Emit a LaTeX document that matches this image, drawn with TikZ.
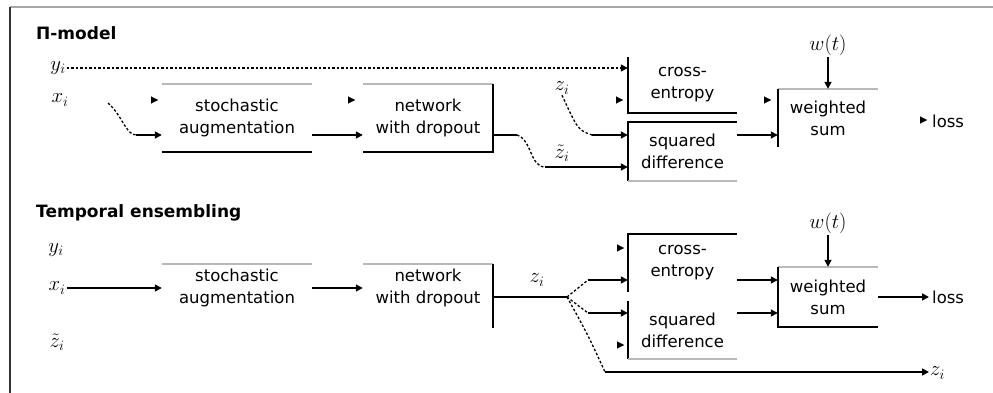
\documentclass[tikz,border=0pt]{standalone}
\usepackage{fontspec}
\setsansfont{DejaVu Sans}
\usetikzlibrary{arrows.meta,calc}
\begin{document}
\begin{tikzpicture}[x=1pt,y=-1pt,
  txt/.style={font=\fontsize{16.5}{22}\selectfont\sffamily, align=center, inner sep=0pt},
  ttl/.style={font=\fontsize{17}{20}\selectfont\sffamily\bfseries, inner sep=0pt, anchor=base west},
  mlab/.style={font=\fontsize{22}{24}\selectfont, inner sep=1pt},
  tipA/.tip={Triangle[length=7pt,width=7pt]},
  conn/.style={line width=1.6pt, -tipA},
  link/.style={line width=1.6pt},
  dots/.style={line width=1.3pt, dash pattern=on 2.5pt off 2pt},
  dotarrow/.style={dots, -tipA},
  edge/.style={line width=2pt},
  soft/.style={line width=1.5pt, gray!55},
  stray/.style={line width=0.1pt, -tipA}]
\useasboundingbox (0,0) rectangle (993,393);
% frame
\draw[gray!70, line width=1.5pt] (10,7) -- (993,7);
\draw[black!80, line width=1.5pt] (10,7) -- (10,393);

% ---------------- Pi-model ----------------
\node[ttl] (t1) at (36,40) {Π-model};
\node[mlab] (y1) at (58,68) {$y_i$};
\node[mlab] (x1) at (60,100) {$x_i$};

\node[txt, minimum width=150, minimum height=68] (aug1) at (237,118) {stochastic\\augmentation};
\node[txt, minimum width=130, minimum height=68] (net1) at (428,118) {network\\with dropout};
\node[txt, minimum width=109, minimum height=56] (ce1) at (682.5,85) {cross-\\entropy};
\node[txt, minimum width=109, minimum height=59] (sd1) at (682.5,151.5) {squared\\difference};
\node[txt, minimum width=100, minimum height=58] (ws1) at (828,118) {weighted\\sum};

\draw[soft] (aug1.north west) -- (aug1.north east);
\draw[edge] (aug1.south west) -- (aug1.south east);
\draw[soft] (net1.north west) -- (net1.north east);
\draw[edge] (net1.north east) -- (net1.south east) -- (net1.south west);
\draw[edge] (ce1.north west) -- (ce1.south west) -- (ce1.south east);
\draw[edge] (sd1.north east) -- (sd1.north west) -- (sd1.south west);
\draw[soft] (sd1.south west) -- (sd1.south east);
\draw[soft] (ws1.north west) -- (ws1.north east);
\draw[edge] (ws1.north west) -- (ws1.south west);

\draw[dotarrow] (y1.east) -- (y1.east -| ce1.west);
\coordinate (d1) at (108,103);
\coordinate (c1) at (136,135);
\draw[dots] (d1) .. controls (122,115) and (126,135) .. (c1);
\draw[conn] (c1) -- (c1 -| aug1.west);
\draw[conn] (aug1.east |- c1) -- (net1.west |- c1);
\coordinate (c2) at (517,135);
\coordinate (c3) at (545,167);
\draw[link] (net1.east |- c1) -- (c2);
\draw[dots] (c2) .. controls (532,140) and (530,167) .. (c3);
\draw[conn] (c3) -- (c3 -| sd1.west);
\node[mlab] (zt1) at (562,153) {$\tilde{z}_i$};
\node[mlab] (z1) at (562,88) {$z_i$};
\coordinate (c4) at (592,135);
\draw[dots] (z1.south) .. controls (578,130) .. (c4);
\draw[conn] (c4) -- (c4 -| sd1.west);
\draw[conn] (sd1.east |- c4) -- (ws1.west |- c4);
\node[mlab] (w1) at (828,45) {$w(t)$};
\draw[conn] (w1.south) -- (ws1.north);
\node[txt, anchor=west] (loss1) at (932,121) {loss};
\foreach \px/\py in {158/100,355/100,623/100,771/100,927/120}
  \draw[stray] (\px-1,\py) -- (\px,\py);

% ---------------- Temporal ensembling ----------------
\node[ttl] (t2) at (36,217) {Temporal ensembling};
\node[mlab] (y2) at (56,250) {$y_i$};
\node[mlab] (x2) at (57,288) {$x_i$};
\node[mlab] (zt2) at (57,342) {$\tilde{z}_i$};

\node[txt, minimum width=150, minimum height=48] (aug2) at (237,288) {stochastic\\augmentation};
\node[txt, minimum width=130, minimum height=48] (net2) at (428,288) {network\\with dropout};
\node[txt, minimum width=109, minimum height=58] (ce2) at (682.5,263) {cross-\\entropy};
\node[txt, minimum width=109, minimum height=58] (sd2) at (682.5,330) {squared\\difference};
\node[txt, minimum width=100, minimum height=60] (ws2) at (828,297) {weighted\\sum};

\draw[soft] (aug2.north west) -- (aug2.north east);
\draw[soft] (net2.north west) -- (net2.north east);
\draw[edge] (net2.north east) -- ($(net2.south east)+(0,16)$);
\draw[edge] (ce2.north east) -- (ce2.north west) -- (ce2.south west);
\draw[edge] (sd2.north west) -- (sd2.south west);
\draw[soft] (sd2.south west) -- (sd2.south east);
\draw[soft] (ws2.north west) -- (ws2.north east);
\draw[edge] (ws2.north west) -- (ws2.south west) -- (ws2.south east);

\draw[conn] (x2.east) -- (x2.east -| aug2.west);
\draw[conn] (aug2.east) -- (net2.west);
\coordinate (b0) at (567,297);
\draw[link] (net2.east |- b0) -- (b0);
\node[mlab] (z2) at (537,280) {$z_i$};
\coordinate (b1) at (588,280);
\coordinate (b2) at (588,313);
\coordinate (b3) at (605,372);
\draw[dots] (b0) -- (b1);
\draw[conn] (b1) -- (b1 -| ce2.west);
\draw[dots] (b0) -- (b2);
\draw[conn] (b2) -- (b2 -| sd2.west);
\draw[dots] (b0) .. controls (588,335) .. (b3);
\node[mlab, anchor=west] (zout) at (929,373) {$z_i$};
\draw[conn] (b3) -- (b3 -| zout.west);
\draw[conn] (ce2.east |- b1) -- (ws2.west |- b1);
\draw[conn] (sd2.east |- b2) -- (ws2.west |- b2);
\node[mlab] (w2) at (828,223) {$w(t)$};
\draw[conn] (w2.south) -- (ws2.north);
\node[txt, anchor=west, inner sep=3pt] (loss2) at (929,297) {loss};
\draw[conn] (ws2.east) -- (loss2.west);
\foreach \px/\py in {624/248,624/345}
  \draw[stray] (\px-1,\py) -- (\px,\py);
\end{tikzpicture}
\end{document}
